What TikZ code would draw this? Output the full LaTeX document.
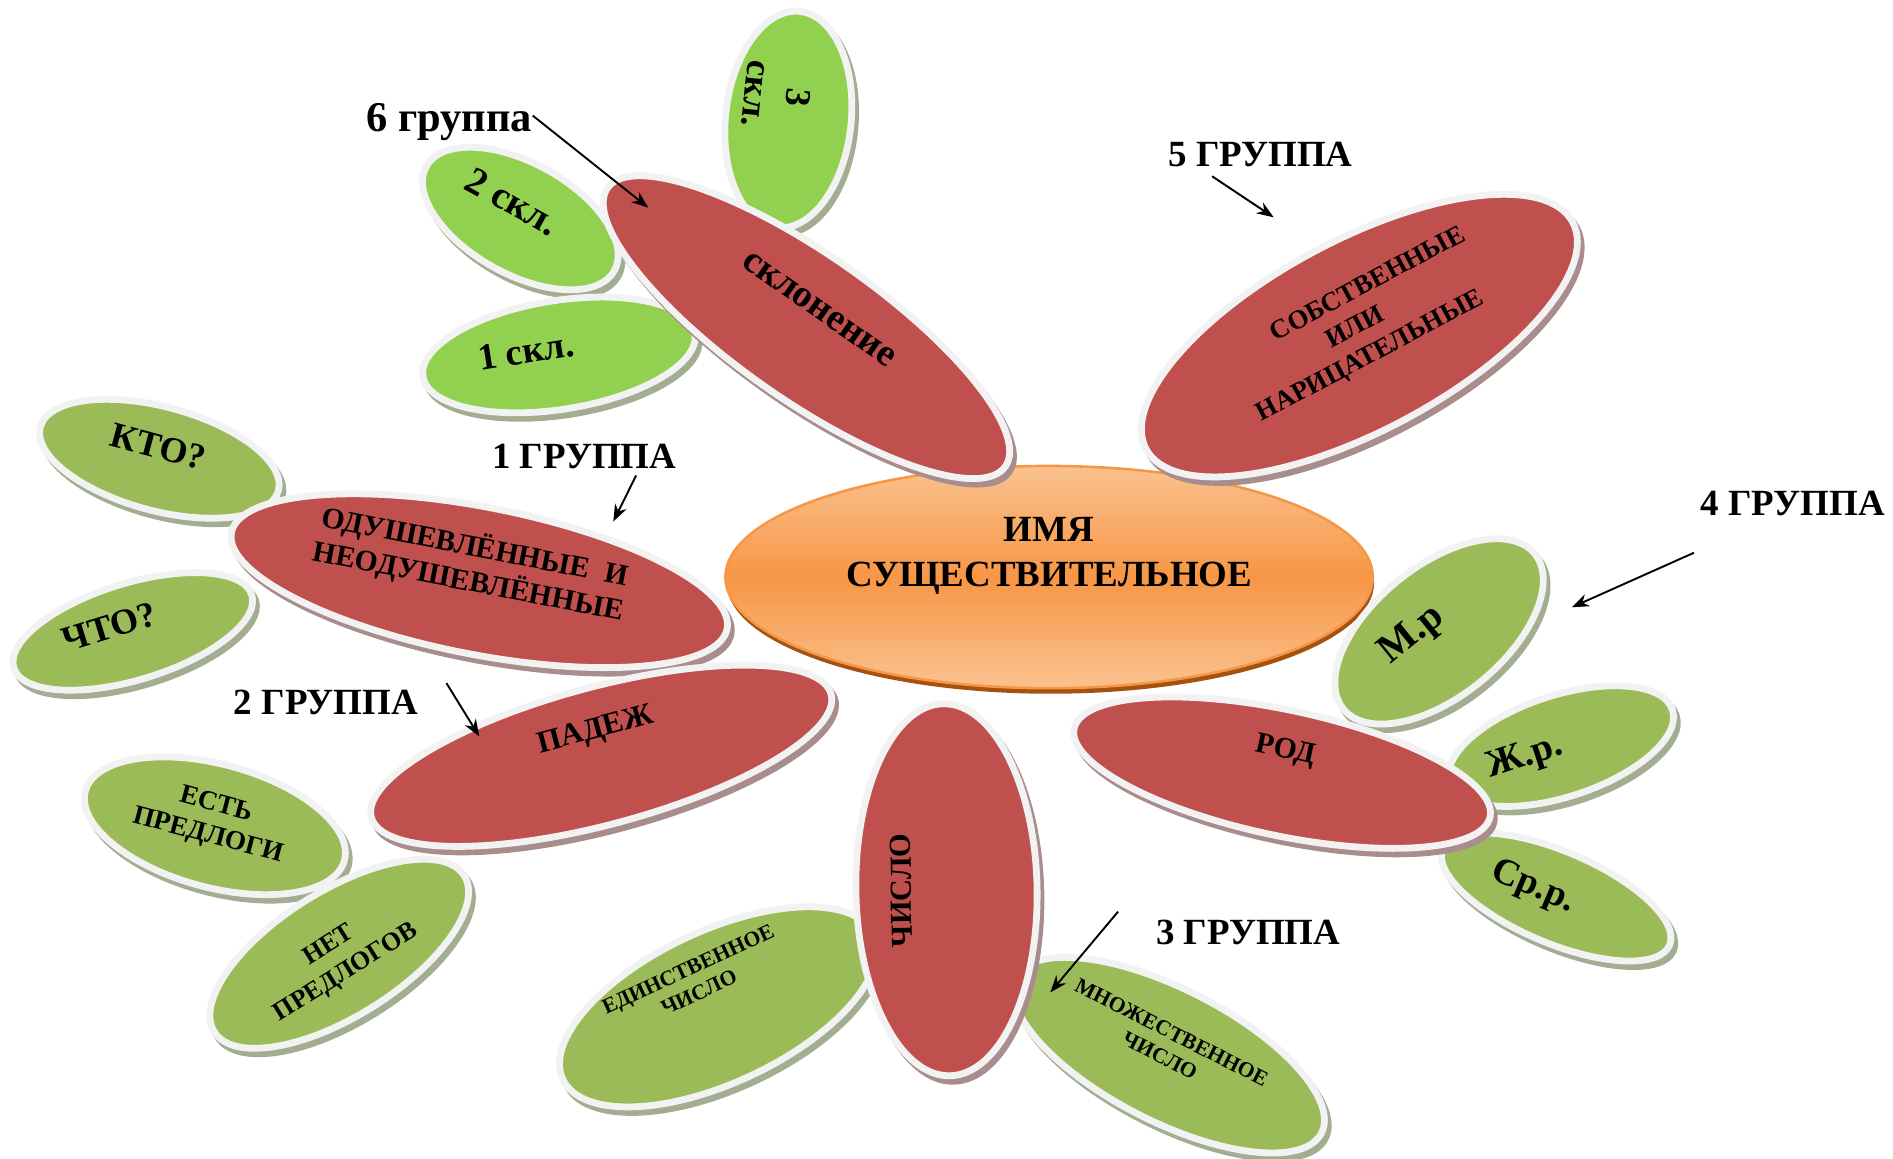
\documentclass[tikz,border=0pt]{standalone}
\usepackage{fontspec}
\setmainfont{Liberation Serif}
\usetikzlibrary{shapes.geometric,shadows,arrows.meta}

\definecolor{leafred}{HTML}{C0504D}
\definecolor{leafgreen}{HTML}{9BBB59}
\definecolor{leaflime}{HTML}{92D050}
\definecolor{leafrim}{HTML}{F2F2F2}
\definecolor{redshade}{HTML}{A98D8D}
\definecolor{greenshade}{HTML}{A2AD92}
\definecolor{corelight}{HTML}{FAC28F}
\definecolor{coremid}{HTML}{F79646}
\definecolor{corerim}{HTML}{A4520E}

\newcommand{\fsz}[2]{\fontsize{#1}{#2}\selectfont\bfseries}
% move the text inside a leaf: along the text, then up
\newcommand{\lift}[3][0pt]{\raisebox{#2}[\height][\depth]{\kern#1\begin{tabular}{@{}c@{}}#3\end{tabular}\kern-#1}}

\begin{document}
\begin{tikzpicture}[x=0.01cm, y=-0.01cm,
    every node/.style={inner sep=0pt},
    leaf/.style={ellipse, draw=leafrim, line width=1.6pt},
    redleaf/.style={leaf, fill=leafred, general shadow={fill=redshade, draw=redshade, shadow xshift=0.9pt, shadow yshift=-1.3pt}},
    greenleaf/.style={leaf, fill=leafgreen, general shadow={fill=greenshade, draw=greenshade, shadow xshift=0.9pt, shadow yshift=-1.3pt}},
    limeleaf/.style={greenleaf, fill=leaflime},
    grouplabel/.style={font=\fsz{8.7}{10}},
    grouparrow/.style={-{Stealth[length=4pt,width=3pt]}, line width=0.45pt}]

    \useasboundingbox (0,0) rectangle (1568,960);

    % centre
    \node (core) at (869,478) [ellipse, minimum width=5.36cm, minimum height=1.84cm, draw=coremid, line width=0.6pt,
        top color=corelight, bottom color=corelight, middle color=coremid,
        general shadow={fill=corerim, shadow xshift=0.3pt, shadow yshift=-1.3pt}, font=\fsz{8.7}{10.6}]
        {\lift{5.3pt}{ИМЯ\\СУЩЕСТВИТЕЛЬНОЕ}};

    % green leaves
    \node (skl3) at (653,99) [limeleaf, minimum width=1.80cm, minimum height=1.04cm, rotate=-96, font=\fsz{8.5}{9.8}] {\lift[-5.3pt]{-4pt}{3\\скл.}};
    \node (skl2) at (431,181) [limeleaf, minimum width=1.78cm, minimum height=0.92cm, rotate=-29, font=\fsz{9.1}{10}] {\lift[-3.5pt]{1.6pt}{2 скл.}};
    \node (skl1) at (463,294) [limeleaf, minimum width=2.28cm, minimum height=0.90cm, rotate=9, font=\fsz{8.8}{10}] {\lift[-7.6pt]{1.2pt}{1 скл.}};
    \node (kto) at (132,380) [greenleaf, minimum width=2.04cm, minimum height=0.86cm, rotate=-15, font=\fsz{8.5}{10}] {\lift[-1pt]{2pt}{КТО?}};
    \node (chto) at (110,523) [greenleaf, minimum width=2.06cm, minimum height=0.80cm, rotate=17, font=\fsz{8.5}{10}] {\lift[-5pt]{1.8pt}{ЧТО?}};
    \node (est) at (178,684) [greenleaf, minimum width=2.22cm, minimum height=1.02cm, rotate=-15, font=\fsz{6.4}{7.6}] {\lift[-1pt]{1pt}{ЕСТЬ\\ПРЕДЛОГИ}};
    \node (net) at (281,790) [greenleaf, minimum width=2.44cm, minimum height=1.04cm, rotate=32, font=\fsz{6.1}{7.6}] {\lift[-1pt]{-0.8pt}{НЕТ\\ПРЕДЛОГОВ}};
    \node (edin) at (595,834) [greenleaf, minimum width=2.84cm, minimum height=1.26cm, rotate=25, font=\fsz{5.1}{6.1}] {\lift[-2.7pt]{7.6pt}{ЕДИНСТВЕННОЕ\\ЧИСЛО}};
    \node (mnozh) at (968,874) [greenleaf, minimum width=2.84cm, minimum height=1.10cm, rotate=-27, font=\fsz{5.1}{6.1}] {\lift[-1.8pt]{1.6pt}{МНОЖЕСТВЕННОЕ\\ЧИСЛО}};
    \node (mr) at (1192,523) [greenleaf, minimum width=2.04cm, minimum height=1.08cm, rotate=39, font=\fsz{9.5}{11}] {\lift[-5.4pt]{3.3pt}{М.р}};
    \node (zhr) at (1293,618) [greenleaf, minimum width=1.94cm, minimum height=0.84cm, rotate=18, font=\fsz{9}{10}] {\lift[-8.9pt]{0pt}{Ж.р.}};
    \node (srr) at (1289,743) [greenleaf, minimum width=2.04cm, minimum height=0.76cm, rotate=-23, font=\fsz{8.8}{10}] {\lift[-5.9pt]{0pt}{Ср.р.}};

    % red leaves
    \node (sklon) at (668,271) [redleaf, minimum width=4.02cm, minimum height=1.20cm, rotate=-35, font=\fsz{9}{10}] {\lift{5pt}{склонение}};
    \node (sobstv) at (1126,278) [redleaf, minimum width=4.00cm, minimum height=1.58cm, rotate=28, font=\fsz{6.3}{7.6}] {\lift{2pt}{\hspace*{15pt}СОБСТВЕННЫЕ\\ИЛИ\\НАРИЦАТЕЛЬНЫЕ}};
    \node (odush) at (397,481) [redleaf, minimum width=4.18cm, minimum height=1.22cm, rotate=-11, font=\fsz{7}{8}] {\lift[-2.5pt]{3pt}{ОДУШЕВЛЁННЫЕ\hspace{0.55em}И\\НЕОДУШЕВЛЁННЫЕ}};
    \node (padezh) at (498,626) [redleaf, minimum width=3.94cm, minimum height=1.14cm, rotate=15, font=\fsz{7.3}{8.5}] {\lift[0.3pt]{6pt}{ПАДЕЖ}};
    \node (chislo) at (784,737) [redleaf, minimum width=3.08cm, minimum height=1.50cm, rotate=91, font=\fsz{7.2}{8.5}] {\lift{10pt}{ЧИСЛО}};
    \node (rod) at (1062,640) [redleaf, minimum width=3.52cm, minimum height=1.04cm, rotate=-12, font=\fsz{7}{8.5}] {\lift[-0.3pt]{5.2pt}{РОД}};

    % group labels
    \node (g6) at (372,101) [font=\fsz{10}{12}] {6 группа};
    \node (g5) at (1044,128) [grouplabel] {5 ГРУППА};
    \node (g1) at (484,378) [grouplabel] {1 ГРУППА};
    \node (g2) at (270,582) [grouplabel] {2 ГРУППА};
    \node (g4) at (1485,417) [grouplabel] {4 ГРУППА};
    \node (g3) at (1034,772) [grouplabel] {3 ГРУППА};

    \coordinate (t6) at (537,172);
    \coordinate (t5) at (1055,180);
    \coordinate (t1) at (508,432);
    \coordinate (t2) at (397,610);
    \coordinate (t4) at (1302,503);
    \coordinate (t3) at (870,822);

    \draw[grouparrow] ([yshift=1.5pt]g6.east) -- (t6);
    \draw[grouparrow] ([xshift=10.5pt,yshift=-2pt]g5.south west) -- (t5);
    \draw[grouparrow] ([xshift=12.2pt,yshift=-1.4pt]g1.south) -- (t1);
    \draw[grouparrow] ([xshift=6.5pt,yshift=4.6pt]g2.east) -- (t2);
    \draw[grouparrow] ([xshift=-1.4pt,yshift=-8.5pt]g4.south west) -- (t4);
    \draw[grouparrow] ([xshift=-8.8pt,yshift=4.8pt]g3.west) -- (t3);
\end{tikzpicture}
\end{document}
